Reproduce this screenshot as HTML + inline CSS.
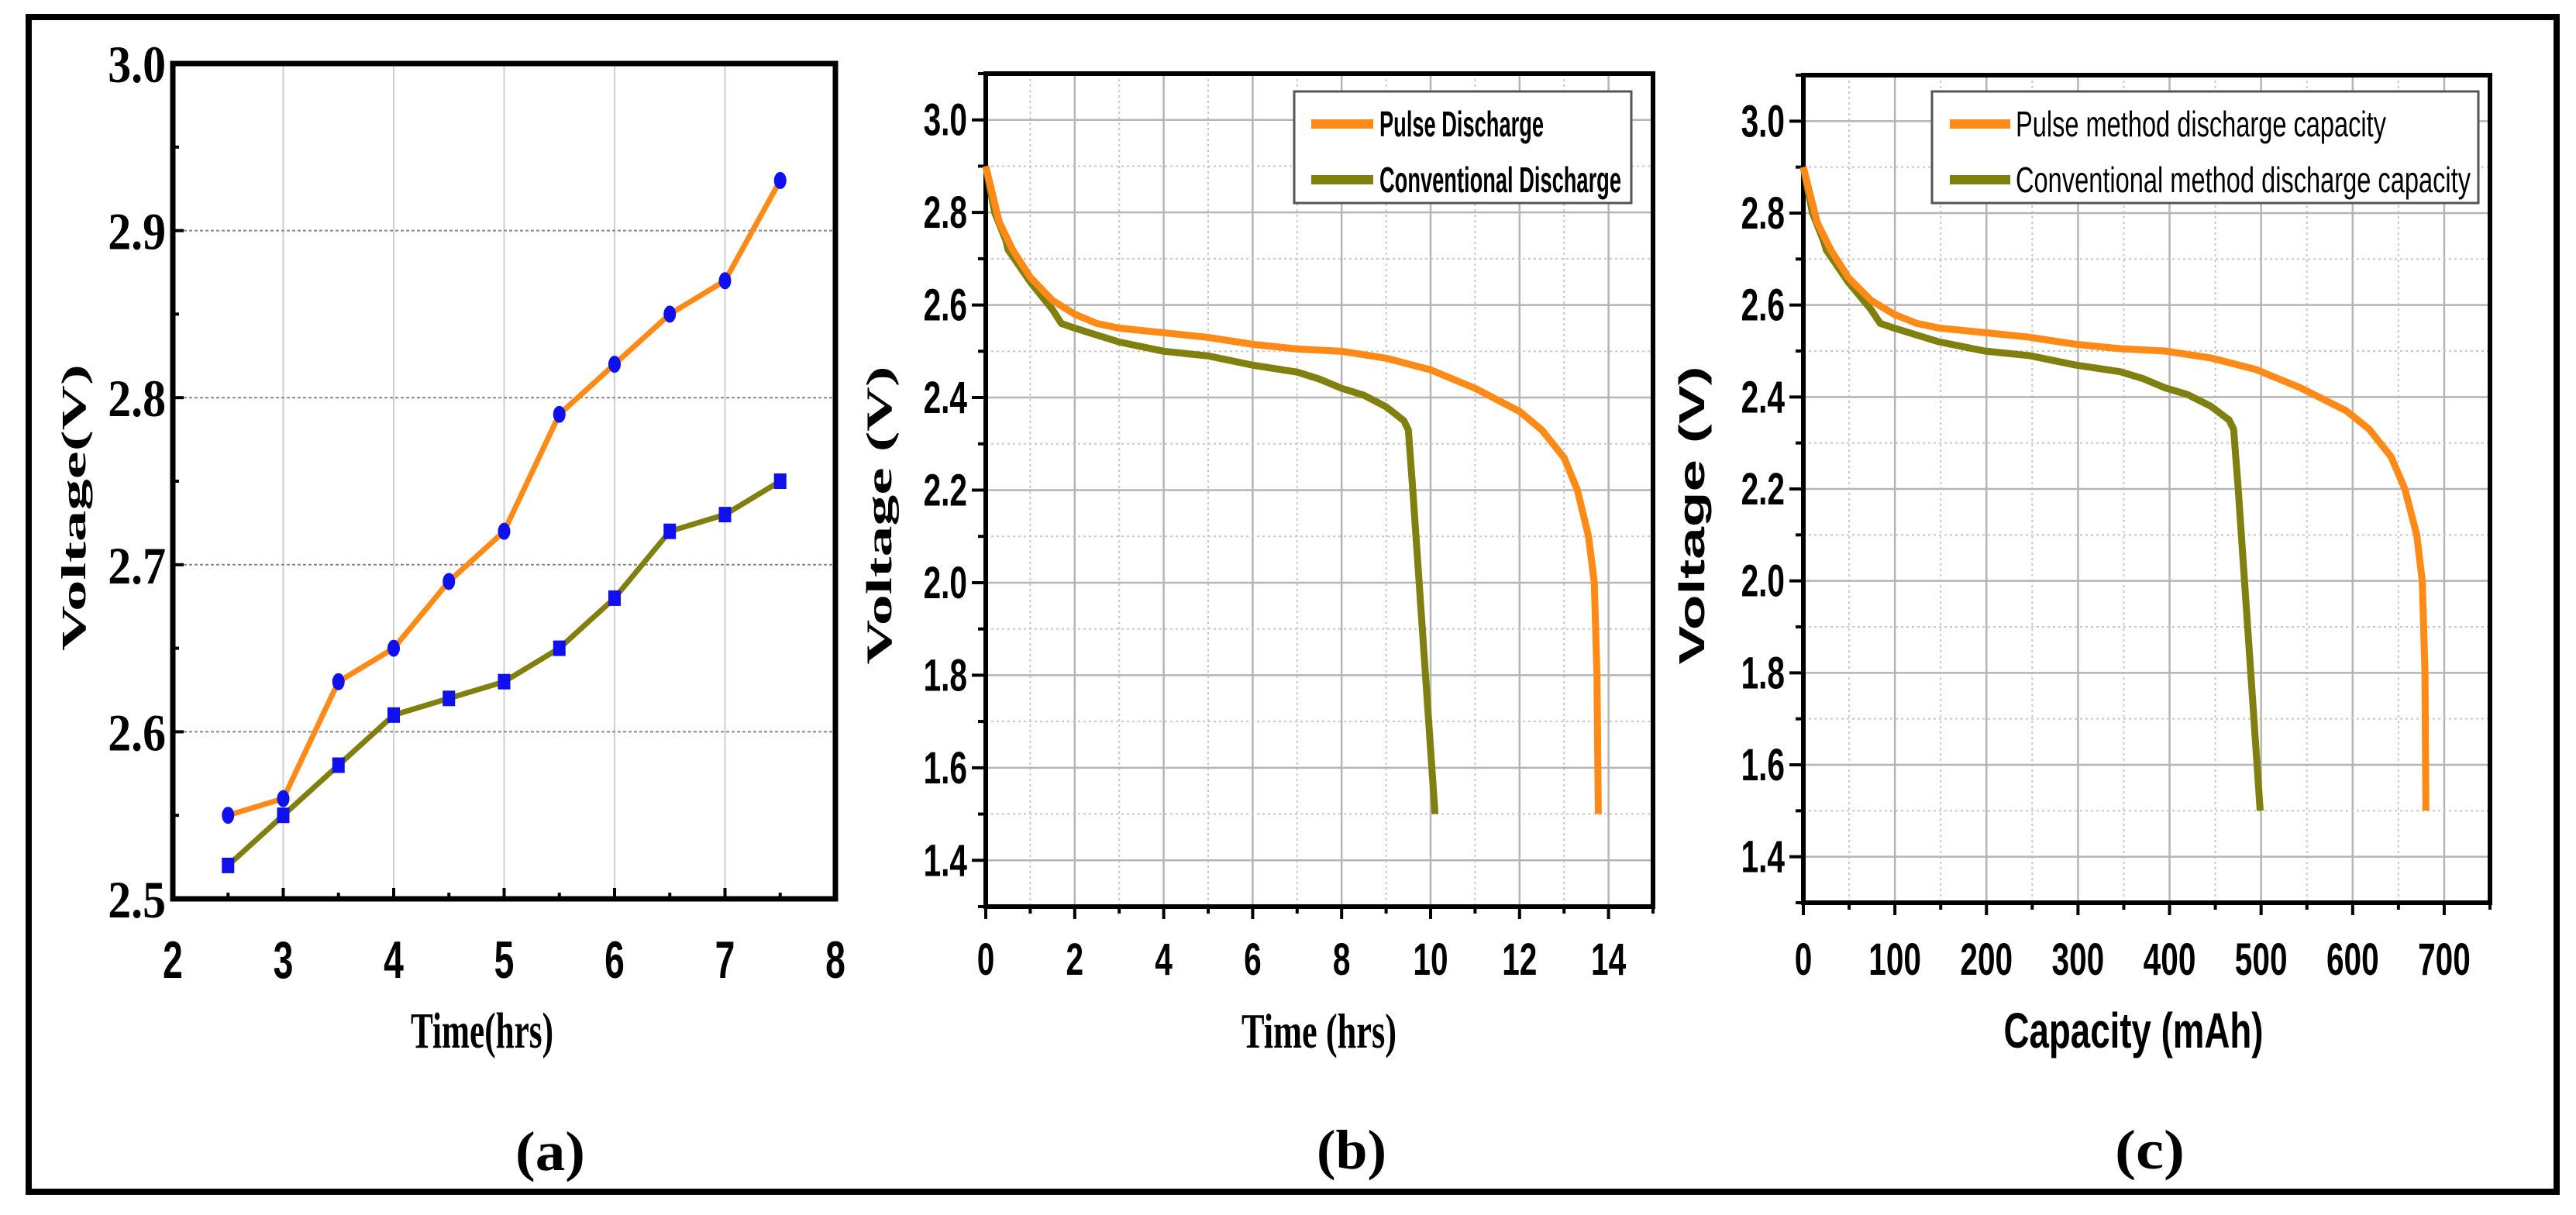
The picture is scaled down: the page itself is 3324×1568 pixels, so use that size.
<!DOCTYPE html>
<html><head><meta charset="utf-8"><style>
html,body{margin:0;padding:0;background:#fff;}
svg{display:block;}
</style></head><body>
<svg id="fig" width="3324" height="1568" viewBox="0 0 3324 1568" xmlns="http://www.w3.org/2000/svg">
<rect x="0" y="0" width="3324" height="1568" fill="#fff"/>
<rect x="37" y="22" width="3262" height="1516" fill="none" stroke="#000" stroke-width="8"/>
<g id="pa"></g>
<g id="pb"></g>
<g id="pc"></g>
</svg>
<script>
// ---- Panel (a) data ----
const aTimes = [2.5,3,3.5,4,4.5,5,5.5,6,6.5,7,7.5];
const aPulse = [2.55,2.56,2.63,2.65,2.69,2.72,2.79,2.82,2.85,2.87,2.93];
const aConv  = [2.52,2.55,2.58,2.61,2.62,2.63,2.65,2.68,2.72,2.73,2.75];
const aXTicks = [2,3,4,5,6,7,8];
const aYTicks = ["2.5","2.6","2.7","2.8","2.9","3.0"];
// ---- Panel (b) data ----
const bPulseT = [0,0.3,0.6,1,1.5,2,2.5,3,4,5,6,7,8,9,10,11,12,12.5,13,13.3,13.55,13.68,13.74,13.77];
const bPulseV = [2.9,2.78,2.72,2.66,2.61,2.58,2.56,2.55,2.54,2.53,2.515,2.505,2.5,2.485,2.46,2.42,2.37,2.33,2.27,2.2,2.1,2.0,1.8,1.5];
const bConvT = [0,0.2,0.45,0.5,1,1.5,1.7,2,3,4,5,6,7,7.5,8,8.5,9,9.4,9.5,9.6,10.1];
const bConvV = [2.9,2.8,2.74,2.72,2.65,2.59,2.56,2.55,2.52,2.5,2.49,2.47,2.455,2.44,2.42,2.405,2.38,2.35,2.33,2.2,1.5];
const bXTicks = [0,2,4,6,8,10,12,14];
const bYTicks = ["1.4","1.6","1.8","2.0","2.2","2.4","2.6","2.8","3.0"];
// ---- Panel (c) data ----
const cPulseC = [0,15,30,49,74,99,124,148,198,247,296,346,395,445,494,543,593,618,642,657,670,676,679,680];
const cPulseV = [2.9,2.78,2.72,2.66,2.61,2.58,2.56,2.55,2.54,2.53,2.515,2.505,2.5,2.485,2.46,2.42,2.37,2.33,2.27,2.2,2.1,2.0,1.8,1.5];
const cConvC = [0,10,22,25,49,74,84,99,148,198,247,296,346,371,395,420,445,465,470,475,499];
const cConvV = [2.9,2.8,2.74,2.72,2.65,2.59,2.56,2.55,2.52,2.5,2.49,2.47,2.455,2.44,2.42,2.405,2.38,2.35,2.33,2.2,1.5];
const cXTicks = [0,100,200,300,400,500,600,700];
const cYTicks = ["1.4","1.6","1.8","2.0","2.2","2.4","2.6","2.8","3.0"];

const NS="http://www.w3.org/2000/svg";
const ORANGE="#ff8a17", OLIVE="#7f8010", BLUE="#1010ee";
function mk(parent,tag,attrs){const e=document.createElementNS(NS,tag);for(const k in attrs)e.setAttribute(k,attrs[k]);parent.appendChild(e);return e;}
function txt(parent,x,y,s,size,fam,weight,anchor,sx,rot,len){
  const e=document.createElementNS(NS,'text');
  e.setAttribute('font-size',size);e.setAttribute('font-family',fam);e.setAttribute('font-weight',weight);
  e.setAttribute('text-anchor',anchor);e.setAttribute('fill','#000');
  let tr='translate('+x+','+y+')';
  if(rot)tr+=' rotate('+rot+')';
  if(rot) tr+=' scale(1,'+sx+')'; else tr+=' scale('+sx+',1)';
  e.setAttribute('transform',tr);
  if(len){e.setAttribute('textLength',len);e.setAttribute('lengthAdjust','spacingAndGlyphs');}
  e.textContent=s;parent.appendChild(e);return e;
}
const SERIF='"Liberation Serif", serif', SANS='"Liberation Sans", sans-serif';

// ================= Panel A =================
(function(){
  const g=document.getElementById('pa');
  const L=223,R=1078,T=82,B=1160,x0=2,x1=8,y0=2.5,y1=3.0;
  const X=v=>L+(v-x0)/(x1-x0)*(R-L), Y=v=>B-(v-y0)/(y1-y0)*(B-T);
  for(let v=3;v<=7;v++){const l=mk(g,'line',{x1:X(v),x2:X(v),y1:T,y2:B,stroke:'#cfcfcf','stroke-width':2});
    }
  for(let i=1;i<aYTicks.length-1;i++){const v=parseFloat(aYTicks[i]);const l=mk(g,'line',{x1:L,x2:R,y1:Y(v),y2:Y(v),stroke:'#888','stroke-width':2,'stroke-dasharray':'4,3'});
    }
  const ax=mk(g,'rect',{x:L,y:T,width:R-L,height:B-T,fill:'none',stroke:'#000','stroke-width':7});
  
  for(let v=2.5;v<=3.0001;v+=0.05){mk(g,'line',{x1:L,x2:L+((Math.round(v*100)%10===0)?14:8),y1:Y(v),y2:Y(v),stroke:'#000','stroke-width':4});}
  for(let v=2;v<=8;v+=0.5){mk(g,'line',{x1:X(v),x2:X(v),y1:B,y2:B-(v%1===0?14:8),stroke:'#000','stroke-width':4});}
  aYTicks.forEach(s=>{const t=txt(g,214,Y(parseFloat(s))+24,s,68,SERIF,'bold','end',0.88);
    });
  aXTicks.forEach(v=>{const t=txt(g,X(v),1262,String(v),68,SANS,'bold','middle',0.68);
    });
  const xl=txt(g,622,1352,'Time(hrs)',66,SERIF,'bold','middle',1,0,184);
  
  const yl=txt(g,110,655,'Voltage(V)',64,SERIF,'bold','middle',0.7,-90,370);
  
  const pt=txt(g,710,1510,'(a)',72,SERIF,'bold','middle',1,0,90);
  
  const p1=mk(g,'polyline',{points:aTimes.map((t,i)=>X(t)+','+Y(aPulse[i])).join(' '),fill:'none',stroke:ORANGE,'stroke-width':7,'stroke-linejoin':'round'});
  
  const p2=mk(g,'polyline',{points:aTimes.map((t,i)=>X(t)+','+Y(aConv[i])).join(' '),fill:'none',stroke:OLIVE,'stroke-width':7,'stroke-linejoin':'round'});
  
  aTimes.forEach((t,i)=>{const c=mk(g,'ellipse',{cx:X(t),cy:Y(aPulse[i]),rx:8,ry:11,fill:BLUE});
    
    const s=mk(g,'rect',{x:X(t)-8,y:Y(aConv[i])-10,width:16,height:20,fill:BLUE});
    });
})();

// ============ Panels B & C (shared builder) ============
function buildPanel(gid,L,R,T,B,x0,x1,xMajor,xMinor,xTicks,yTicks,s1x,s1y,s2x,s2y,lg,xTitle,xTitleFam,xTitleX,xTitleLen,yTitleX,letter,letterX){
  const g=document.getElementById(gid);
  const y0=1.3,y1=3.1;
  const X=v=>L+(v-x0)/(x1-x0)*(R-L), Y=v=>B-(v-y0)/(y1-y0)*(B-T);
  for(let v=x0+xMinor;v<x1-0.001;v+=xMinor){const major=Math.abs(v/xMajor-Math.round(v/xMajor))<1e-6;
    const l=mk(g,'line',{x1:X(v),x2:X(v),y1:T,y2:B,stroke:major?'#b5b5b5':'#c8c8c8','stroke-width':major?2.5:2,'stroke-dasharray':major?'none':'3,4'});
    }
  for(let k=14;k<=30;k++){const v=k/10;const major=(k%2===0);
    const l=mk(g,'line',{x1:L,x2:R,y1:Y(v),y2:Y(v),stroke:major?'#b5b5b5':'#c8c8c8','stroke-width':major?2.5:2,'stroke-dasharray':major?'none':'3,4'});
    }
  const ax=mk(g,'rect',{x:L,y:T,width:R-L,height:B-T,fill:'none',stroke:'#000','stroke-width':6});
  
  for(let k=13;k<=31;k++){const v=k/10;mk(g,'line',{x1:L,x2:L-(k%2===0?18:10),y1:Y(v),y2:Y(v),stroke:'#000','stroke-width':4});}
  for(let v=x0;v<=x1+0.001;v+=xMinor){const major=Math.abs(v/xMajor-Math.round(v/xMajor))<1e-6;mk(g,'line',{x1:X(v),x2:X(v),y1:B,y2:B+(major?16:9),stroke:'#000','stroke-width':4});}
  yTicks.forEach(s=>{const t=txt(g,L-24,Y(parseFloat(s))+20,s,58,SANS,'bold','end',0.7);
    });
  xTicks.forEach(v=>{const t=txt(g,X(v),1258,String(v),58,SANS,'bold','middle',0.7);
    });
  const xl=txt(g,xTitleX,1352,xTitle,64,xTitleFam,'bold','middle',1,0,xTitleLen);
  
  const yl=txt(g,yTitleX,665,'Voltage (V)',62,gid==='pb'?SERIF:SANS,'bold','middle',0.75,-90,385);
  
  const pt=txt(g,letterX,1508,letter,72,SERIF,'bold','middle',1,0,90);
  
  const c2=mk(g,'polyline',{points:s2x.map((t,i)=>X(t)+','+Y(s2y[i])).join(' '),fill:'none',stroke:OLIVE,'stroke-width':9,'stroke-linejoin':'round'});
  
  const c1=mk(g,'polyline',{points:s1x.map((t,i)=>X(t)+','+Y(s1y[i])).join(' '),fill:'none',stroke:ORANGE,'stroke-width':9,'stroke-linejoin':'round'});
  
  const lgG=mk(g,'g',{});
  
  mk(lgG,'rect',{x:lg.x,y:118,width:lg.w,height:144,fill:'#fff',stroke:'#555','stroke-width':3});
  const e1=mk(lgG,'line',{x1:lg.lx1,x2:lg.lx2,y1:160,y2:160,stroke:ORANGE,'stroke-width':12});
  
  const e2=mk(lgG,'line',{x1:lg.lx1,x2:lg.lx2,y1:232,y2:232,stroke:OLIVE,'stroke-width':12});
  
  const t1=txt(lgG,lg.tx,176,lg.t1,46,SANS,lg.wt,'start',1,0,lg.l1);
  
  const t2=txt(lgG,lg.tx,248,lg.t2,46,SANS,lg.wt,'start',1,0,lg.l2);
  
}
buildPanel('pb',1272,2133,95,1170,0,15,2,1,bXTicks,bYTicks,bPulseT,bPulseV,bConvT,bConvV,
  {x:1670,w:435,lx1:1692,lx2:1772,tx:1780,t1:'Pulse Discharge',t2:'Conventional Discharge',l1:212,l2:312,wt:'bold'},
  'Time (hrs)',SERIF,1702,200,1150,'(b)',1744);
buildPanel('pc',2327,3213,97,1165,0,750,100,50,cXTicks,cYTicks,cPulseC,cPulseV,cConvC,cConvV,
  {x:2493,w:705,lx1:2516,lx2:2594,tx:2601,t1:'Pulse method discharge capacity',t2:'Conventional method discharge capacity',l1:478,l2:587,wt:'normal'},
  'Capacity (mAh)',SANS,2753,335,2199,'(c)',2774);
</script>
</body></html>
